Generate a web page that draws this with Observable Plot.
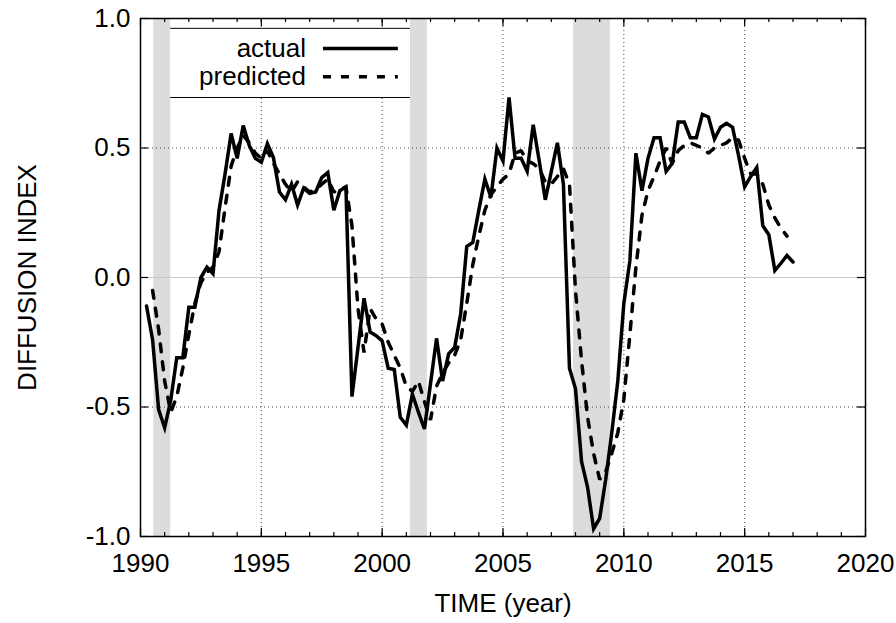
<!DOCTYPE html>
<html>
<head>
<meta charset="utf-8">
<script src="https://cdn.jsdelivr.net/npm/d3@7"></script>
<script src="https://cdn.jsdelivr.net/npm/@observablehq/plot@0.6"></script>
<style>
  html, body { margin: 0; padding: 0; background: #fff; }
  #chart svg { display: block; }
</style>
</head>
<body>
<div id="chart"></div>
<script>
// ---- data (quarterly) ----
const actualStart = 1990.25;
const actualValues = [
  -0.11, -0.24, -0.51, -0.58, -0.475, -0.31, -0.31, -0.115, -0.115, 0.0, 0.04, 0.015,
  0.26, 0.40, 0.556, 0.46, 0.587, 0.51, 0.46, 0.445, 0.517, 0.463, 0.33, 0.30,
  0.36, 0.28, 0.345, 0.325, 0.33, 0.386, 0.405, 0.26, 0.335, 0.35, -0.46, -0.27,
  -0.08, -0.21, -0.225, -0.245, -0.35, -0.355, -0.54, -0.57, -0.45, -0.52, -0.585, -0.41,
  -0.235, -0.40, -0.295, -0.27, -0.14, 0.12, 0.135, 0.26, 0.38, 0.31, 0.50, 0.45,
  0.695, 0.46, 0.46, 0.41, 0.59, 0.45, 0.30, 0.41, 0.52, 0.36, -0.35, -0.43,
  -0.71, -0.81, -0.97, -0.93, -0.78, -0.60, -0.40, -0.10, 0.065, 0.48, 0.335, 0.46,
  0.54, 0.54, 0.41, 0.44, 0.60, 0.60, 0.54, 0.54, 0.63, 0.62, 0.535, 0.58,
  0.595, 0.58, 0.47, 0.35, 0.39, 0.425, 0.20, 0.165, 0.027, 0.055, 0.085, 0.06
];
const predictedStart = 1990.5;
const predictedValues = [
  -0.05, -0.20, -0.40, -0.52, -0.46, -0.35, -0.22, -0.10, -0.02, 0.02, 0.04,
  0.10, 0.27, 0.43, 0.50, 0.55, 0.52, 0.48, 0.46, 0.49, 0.44, 0.40, 0.36,
  0.33, 0.37, 0.35, 0.33, 0.34, 0.36, 0.38, 0.33, 0.34, 0.35, 0.20, -0.12,
  -0.29, -0.12, -0.16, -0.18, -0.25, -0.30, -0.35, -0.42, -0.44, -0.40, -0.48, -0.55,
  -0.42, -0.37, -0.33, -0.30, -0.24, -0.10, 0.05, 0.16, 0.26, 0.32, 0.35, 0.38,
  0.40, 0.48, 0.49, 0.45, 0.44, 0.42, 0.37, 0.36, 0.39, 0.42, 0.36, -0.05,
  -0.32, -0.54, -0.68, -0.78, -0.75, -0.68, -0.60, -0.47, -0.22, 0.04, 0.24, 0.335,
  0.39, 0.45, 0.50, 0.44, 0.49, 0.51, 0.52, 0.51, 0.50, 0.48, 0.50, 0.51,
  0.52, 0.54, 0.53, 0.46, 0.40, 0.40, 0.36, 0.28, 0.23, 0.19, 0.16
];
const recessionStarts = [1990.55, 2001.17, 2007.92];
const recessionEnds   = [1991.25, 2001.87, 2009.45];
const xTickLabels = [1990, 1995, 2000, 2005, 2010, 2015, 2020];
const xMinorTicks = d3.range(1991, 2020);
const yTickLabels = [-1.0, -0.5, 0.0, 0.5, 1.0];
const seriesNames = ["actual", "predicted"];

// ---- tables built from the arrays ----
const actual = actualValues.map((v, i) => ({t: actualStart + i * 0.25, v}));
const predicted = predictedValues.map((v, i) => ({t: predictedStart + i * 0.25, v}));
const recessions = recessionStarts.map((s, i) => ({start: s, end: recessionEnds[i]}));

// ---- layout ----
const W = 896, H = 623;
const mL = 140, mR = 31, mT = 18, mB = 87;
const fw = W - mL - mR, fh = H - mT - mB;
const font = "'Liberation Sans', Arial, Helvetica, sans-serif";
const xDom = [1990, 2020], yDom = [-1, 1];
// tick lengths converted from pixels to data units
const pxY = (yDom[1] - yDom[0]) / fh, pxX = (xDom[1] - xDom[0]) / fw;
const majLen = 8, minLen = 4;

// legend placement (data space)
const legendBox = {x1: 1991.25, x2: 2001.17, y1: 0.695, y2: 0.962};
const legendY = [0.884, 0.775];
const legendTextX = 1996.85, legendLineX1 = 1997.57, legendLineX2 = 2000.67;
const legendRows = seriesNames.map((name, i) => ({name, y: legendY[i]}));

const tickOpts = {stroke: "black", strokeWidth: 1.2};
const lineW = 3.5, dash = "8,10";

const chart = Plot.plot({
  width: W, height: H,
  marginLeft: mL, marginRight: mR, marginTop: mT, marginBottom: mB,
  style: {fontFamily: font, fontSize: "26px", color: "black", background: "white"},
  x: {domain: xDom, ticks: xTickLabels, tickSize: 0, tickPadding: 17,
      tickFormat: d => String(d), label: null},
  y: {domain: yDom, ticks: yTickLabels, tickSize: 0, tickPadding: 10,
      tickFormat: d => d.toFixed(1), label: null},
  marks: [
    Plot.rect(recessions, {x1: "start", x2: "end", fill: "#dcdcdc"}),
    Plot.ruleY([0], {stroke: "#c8c8c8", strokeWidth: 1}),
    Plot.ruleX(xTickLabels.slice(1, -1), {stroke: "#444", strokeWidth: 1, strokeDasharray: "1,3"}),
    Plot.ruleY([-0.5, 0.5], {stroke: "#444", strokeWidth: 1, strokeDasharray: "1,3"}),
    // legend box
    Plot.rect([legendBox], {x1: "x1", x2: "x2", y1: "y1", y2: "y2", fill: "white"}),
    Plot.ruleY([legendBox.y1, legendBox.y2], {x1: legendBox.x1, x2: legendBox.x2, stroke: "black", strokeWidth: 1}),
    Plot.text(legendRows, {x: legendTextX, y: "y", text: "name", textAnchor: "end",
      lineAnchor: "middle", fontSize: 26, fontFamily: font, fill: "black"}),
    Plot.ruleY([legendRows[0]], {y: "y", x1: legendLineX1, x2: legendLineX2, stroke: "black", strokeWidth: lineW}),
    Plot.ruleY([legendRows[1]], {y: "y", x1: legendLineX1, x2: legendLineX2, stroke: "black",
      strokeWidth: lineW, strokeDasharray: dash}),
    // ticks (inward, gnuplot style)
    Plot.ruleX(xMinorTicks, {x: d => d, y1: yDom[0], y2: yDom[0] + minLen * pxY, ...tickOpts}),
    Plot.ruleX(xMinorTicks, {x: d => d, y1: yDom[1], y2: yDom[1] - minLen * pxY, ...tickOpts}),
    Plot.ruleX(xTickLabels, {x: d => d, y1: yDom[0], y2: yDom[0] + majLen * pxY, ...tickOpts}),
    Plot.ruleX(xTickLabels, {x: d => d, y1: yDom[1], y2: yDom[1] - majLen * pxY, ...tickOpts}),
    Plot.ruleY(yTickLabels, {y: d => d, x1: xDom[0], x2: xDom[0] + majLen * pxX, ...tickOpts}),
    Plot.ruleY(yTickLabels, {y: d => d, x1: xDom[1], x2: xDom[1] - majLen * pxX, ...tickOpts}),
    // series
    Plot.line(predicted, {x: "t", y: "v", stroke: "black", strokeWidth: lineW,
      strokeDasharray: dash, strokeLinejoin: "miter"}),
    Plot.line(actual, {x: "t", y: "v", stroke: "black", strokeWidth: lineW,
      strokeLinejoin: "miter", strokeMiterlimit: 4}),
    Plot.frame({stroke: "black", strokeWidth: 1.5}),
    // axis titles
    Plot.text(["TIME (year)"], {frameAnchor: "bottom", dy: 67, textAnchor: "middle", lineAnchor: "middle",
      fontSize: 26, fontFamily: font, fill: "black"}),
    Plot.text(["DIFFUSION INDEX"], {frameAnchor: "left", rotate: -90, dx: -113, textAnchor: "middle",
      lineAnchor: "middle", fontSize: 26, fontFamily: font, fill: "black"})
  ]
});
document.getElementById("chart").appendChild(chart);
</script>
</body>
</html>
